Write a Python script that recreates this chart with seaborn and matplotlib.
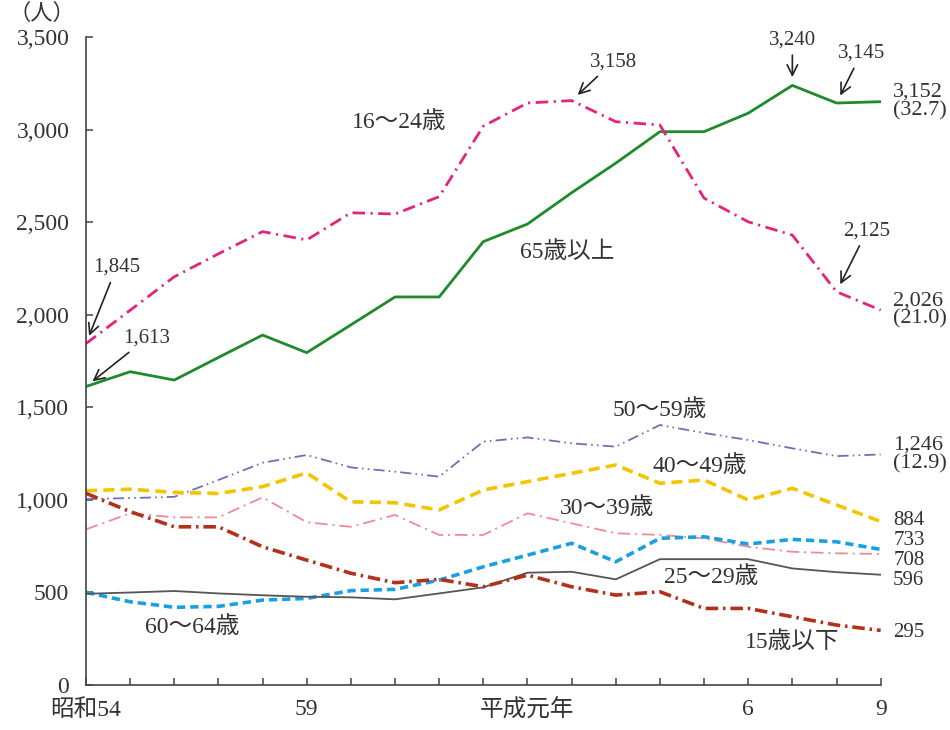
import pandas as pd
import seaborn as sns
import matplotlib
matplotlib.use("Agg")
import matplotlib.pyplot as plt

# === データ（昭和54年〜平成9年） ===
years = list(range(1979, 1998))
tick_years = [1979, 1984, 1989, 1994, 1997]
tick_labels = ["昭和54", "59", "平成元年", "6", "9"]

age65_over = [1613, 1693, 1648, 1770, 1891, 1796, 1946, 2097, 2097, 2396,
              2491, 2660, 2820, 2990, 2990, 3090, 3240, 3145, 3152]
age16_24 = [1845, 2025, 2206, 2330, 2450, 2405, 2552, 2545, 2639, 3020,
            3145, 3158, 3044, 3026, 2631, 2503, 2431, 2125, 2026]
age50_59 = [1005, 1010, 1017, 1108, 1201, 1243, 1176, 1153, 1126, 1315,
            1338, 1306, 1288, 1405, 1362, 1324, 1279, 1237, 1246]
age40_49 = [1050, 1058, 1041, 1035, 1072, 1146, 990, 985, 946, 1054,
            1099, 1144, 1189, 1090, 1108, 1000, 1063, 973, 884]
age30_39 = [841, 928, 906, 906, 1014, 880, 855, 919, 811, 811,
            928, 874, 820, 811, 793, 747, 720, 712, 708]
age60_64 = [501, 450, 420, 425, 459, 468, 510, 517, 567, 639,
            702, 766, 666, 793, 801, 762, 787, 774, 733]
age25_29 = [493, 500, 508, 495, 485, 477, 474, 463, 495, 528,
            607, 612, 571, 680, 680, 680, 630, 610, 596]
age15_under = [1036, 937, 855, 855, 747, 675, 604, 553, 571, 531,
               594, 531, 486, 504, 414, 414, 369, 324, 295]

# === スタイル ===
sns.set_style("ticks")
plt.rcParams["font.family"] = ["Liberation Serif", "Noto Sans CJK JP"]
plt.rcParams["lines.scale_dashes"] = False
txt = "#333333"

fig = plt.figure(figsize=(9.5, 7.3), dpi=100)
ax = fig.add_axes([0.0905, 0.0616, 0.8365, 0.8873])

series = [
    (age65_over, "#1f8a2a", 2.0, "-"),
    (age16_24, "#e4247c", 2.0, (0, (9, 4, 1.5, 4))),
    (age50_59, "#6e70b4", 1.3, (0, (8, 3, 1.2, 3, 1.2, 3))),
    (age40_49, "#f2c500", 2.6, (0, (8, 4.5))),
    (age30_39, "#f08a96", 1.3, (0, (9, 3.5, 1.5, 3.5))),
    (age60_64, "#1aa0e0", 2.6, (0, (6, 3.5))),
    (age25_29, "#555555", 1.3, "-"),
    (age15_under, "#b5301a", 2.6, (0, (9, 3.5, 1.8, 3.5))),
]
for vals, col, lw, ls in series:
    sns.lineplot(x=years, y=vals, ax=ax, color=col, linewidth=lw,
                 linestyle=ls, legend=False)

# === 軸 ===
ax.set_xlim(1979, 1997)
ax.set_ylim(0, 3500)
ax.set_yticks(range(0, 3501, 500))
ax.set_yticklabels([f"{v:,}" for v in range(0, 3501, 500)])
ax.set_xticks(years)
ax.set_xticklabels([tick_labels[tick_years.index(y)] if y in tick_years else ""
                    for y in years])
ax.tick_params(axis="both", direction="in", length=5, width=1.1,
               colors="#444444", labelcolor=txt, labelsize=17)
ax.tick_params(axis="y", pad=12)
ax.tick_params(axis="x", pad=10)
sns.despine(ax=ax)
for s in ["left", "bottom"]:
    ax.spines[s].set_color("#444444")
    ax.spines[s].set_linewidth(1.2)
ax.set_xlabel("")
ax.set_ylabel("")
ax.text(-0.055, 1.035, "（人）", transform=ax.transAxes, ha="center",
        va="center", fontsize=16, color=txt)

# === 系列ラベル ===
labels = [
    ("16〜24歳", 1986.1, 3042),
    ("65歳以上", 1989.9, 2340),
    ("50〜59歳", 1992.0, 1486),
    ("40〜49歳", 1992.9, 1183),
    ("30〜39歳", 1990.8, 956),
    ("25〜29歳", 1993.15, 584),
    ("60〜64歳", 1981.4, 313),
    ("15歳以下", 1995.0, 232),
]
for t, x, y in labels:
    ax.text(x, y, t, ha="center", va="center", fontsize=17, color=txt)

# === 矢印付き注記 ===
arrow = dict(arrowstyle="->,head_length=0.5,head_width=0.25", color="#222222",
             lw=1.2, shrinkA=2, shrinkB=6)
notes = [
    (0, age16_24, (22, 55)),
    (0, age65_over, (44, 35)),
    (11, age16_24, (30, 28)),
    (16, age65_over, (0, 33)),
    (17, age65_over, (18, 36)),
    (17, age16_24, (22, 44)),
]
for i, vals, off in notes:
    ax.annotate(f"{vals[i]:,}", xy=(years[i], vals[i]), xytext=off,
                textcoords="offset points", ha="center", va="center",
                fontsize=15, color=txt, arrowprops=arrow,
                annotation_clip=False)

# === 右端の値 ===
ends = [
    (f"{age65_over[-1]:,}\n(32.7)", age65_over[-1], 0, 16),
    (f"{age16_24[-1]:,}\n(21.0)", age16_24[-1], 0, 16),
    (f"{age50_59[-1]:,}\n(12.9)", age50_59[-1], 0, 16),
    (f"{age40_49[-1]:,}", age40_49[-1], 1, 15),
    (f"{age60_64[-1]:,}", age60_64[-1], 6.5, 15),
    (f"{age30_39[-1]:,}", age30_39[-1], -5, 15),
    (f"{age25_29[-1]:,}", age25_29[-1], -4, 15),
    (f"{age15_under[-1]:,}", age15_under[-1], -1.5, 15),
]
for t, y, dy, fs in ends:
    ax.annotate(t, xy=(years[-1], y), xytext=(9, dy), textcoords="offset points",
                ha="left", va="center", fontsize=fs, color=txt,
                linespacing=0.95, annotation_clip=False)

fig.savefig("out.png", dpi=100)
